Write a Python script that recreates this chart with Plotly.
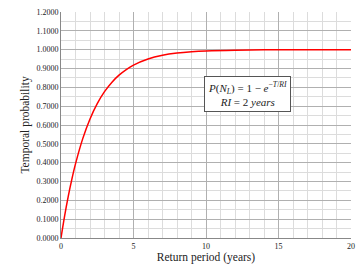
import plotly.graph_objects as go

return_period = [0, 0.25, 0.5, 0.75, 1, 1.5, 2, 2.5, 3, 3.5, 4, 4.5, 5, 6, 7, 8, 9, 10, 12, 14, 16, 18, 20]
temporal_prob = [0.0, 0.1175, 0.2212, 0.3127, 0.3935, 0.5276, 0.6321, 0.7135, 0.7769, 0.8262,
                 0.8647, 0.8946, 0.9179, 0.9502, 0.9698, 0.9817, 0.9889, 0.9933, 0.9975,
                 0.9991, 0.9997, 0.9999, 1.0]

x_ticks = [0, 5, 10, 15, 20]
y_ticks = [round(i * 0.1, 1) for i in range(13)]

serif = "Liberation Serif"

fig = go.Figure()
fig.add_trace(go.Scatter(x=return_period, y=temporal_prob, mode="lines",
                         line=dict(color="#ff0000", width=1.5, shape="spline"),
                         showlegend=False, hoverinfo="skip"))

fig.update_layout(
    width=363, height=269,
    margin=dict(l=61, r=8, t=11, b=30),
    paper_bgcolor="white", plot_bgcolor="white",
    font=dict(family=serif, color="#222222"),
    xaxis=dict(range=[0, 20], tickvals=x_ticks, ticktext=[str(v) for v in x_ticks],
               showgrid=True, gridcolor="#b0b0b0", gridwidth=1,
               minor=dict(dtick=1, showgrid=True, gridcolor="#dcdcdc", gridwidth=1),
               showline=True, linecolor="#888888", linewidth=1, zeroline=False,
               ticks="", tickfont=dict(size=8, family=serif),
               title=dict(text="Return period (years)", font=dict(size=11.5, family=serif), standoff=2)),
    yaxis=dict(range=[0, 1.2], tickvals=y_ticks, ticktext=[f"{v:.4f}" for v in y_ticks],
               showgrid=True, gridcolor="#b0b0b0", gridwidth=1,
               minor=dict(dtick=0.05, showgrid=True, gridcolor="#dcdcdc", gridwidth=1),
               showline=True, linecolor="#888888", linewidth=1, zeroline=False,
               ticks="", tickfont=dict(size=8, family=serif),
               title=dict(text="Temporal probability", font=dict(size=11.5, family=serif), standoff=4)),
)

fig.add_annotation(
    x=0.643, y=0.638, xref="paper", yref="paper", xanchor="center", yanchor="middle",
    text="<i>P</i>(<i>N<sub>L</sub></i>) = 1 − <i>e</i><sup>−<i>T</i>/<i>RI</i></sup><br><i>RI</i> = 2 <i>years</i>",
    showarrow=False, font=dict(family=serif, size=11, color="#222222"),
    bgcolor="white", bordercolor="#555555", borderwidth=1, borderpad=3, align="center",
)

fig.write_html(
    "out.html",
    config={"displayModeBar": False},
    post_script=(
        "document.body.style.margin='0';document.body.style.padding='0';"
        "document.body.style.overflow='hidden';document.documentElement.style.overflow='hidden';"
    ),
)
